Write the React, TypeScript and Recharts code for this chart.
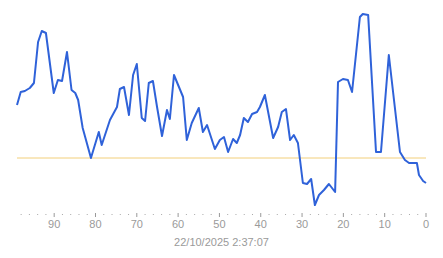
import { LineChart, Line, XAxis, YAxis, ReferenceLine } from "recharts";

// seconds ago
const secondsAgo = [
  99.0, 98.1, 97.1, 95.9, 94.9, 93.9, 93.0, 92.0, 90.1, 89.1, 88.1, 86.9, 85.8,
  84.9, 84.2, 83.1, 81.1, 79.2, 78.5, 76.5, 74.8, 74.1, 73.1, 71.9, 70.9, 70.0,
  68.8, 68.0, 67.1, 66.1, 65.1, 63.9, 62.7, 62.0, 61.0, 60.0, 58.8, 57.9, 56.7,
  55.0, 54.0, 53.0, 51.1, 49.9, 48.9, 47.9, 46.7, 45.8, 45.0, 44.1, 43.1, 42.1,
  40.9, 40.2, 39.0, 37.0, 35.8, 34.9, 33.9, 32.9, 32.0, 31.0, 29.8, 28.8, 27.8,
  26.9, 25.9, 24.7, 23.5, 22.0, 21.3, 20.1, 18.9, 17.9, 16.0, 15.3, 14.0, 12.1,
  10.9, 9.0, 6.3, 5.1, 4.1, 2.2, 1.7, 0.7, 0,
];

const values = [
  105, 118, 119, 122, 127, 168, 179, 177, 117, 130, 129, 158, 120,
  117, 110, 82, 52, 78, 65, 90, 103, 121, 123, 95, 135, 146,
  92, 89, 127, 129, 103, 74, 100, 91, 135, 125, 113, 70, 87,
  102, 78, 85, 61, 70, 73, 58, 71, 67, 75, 92, 88, 96,
  98, 103, 115, 72, 83, 98, 101, 70, 75, 67, 27, 26, 31,
  5, 15, 20, 26, 18, 128, 131, 130, 118, 193, 196, 195, 58,
  58, 155, 58, 50, 47, 47, 35, 29, 27,
];

const baseline = 52;
const majorTicks = [90, 80, 70, 60, 50, 40, 30, 20, 10, 0];
const allTicks = Array.from({ length: 50 }, (_, i) => i * 2);
const timeLabel = "22/10/2025 2:37:07";

const data = secondsAgo.map((t, i) => ({ t, v: values[i] }));

function Tick(props: any) {
  const { x, y, payload } = props;
  const v = payload.value;
  if (majorTicks.includes(v)) {
    return (
      <g>
        <line x1={x} x2={x} y1={y + 3} y2={y + 7} stroke="#999" strokeWidth={1} />
        <text
          x={x}
          y={y + 18}
          textAnchor="middle"
          fill="#9a9a9a"
          fontSize={11}
          fontFamily="Liberation Sans, Arial, sans-serif"
        >
          {v}
        </text>
      </g>
    );
  }
  return <rect x={x - 0.5} y={y + 4} width={1} height={1} fill="#aaa" />;
}

export default function App() {
  return (
    <div style={{ position: "absolute", left: 0, top: 0, background: "#fff" }}>
      <LineChart
        width={443}
        height={258}
        data={data}
        margin={{ top: 10, right: 17, left: 17, bottom: 0 }}
      >
        <XAxis
          dataKey="t"
          type="number"
          domain={[0, 99]}
          reversed
          ticks={allTicks}
          interval={0}
          axisLine={false}
          tickLine={false}
          tickSize={0}
          tickMargin={0}
          height={48}
          tick={<Tick />}
          label={{
            value: timeLabel,
            position: "insideBottom",
            offset: 12,
            fill: "#9a9a9a",
            fontSize: 11,
            fontFamily: "Liberation Sans, Arial, sans-serif",
          }}
        />
        <YAxis hide domain={[0, 200]} />
        <ReferenceLine y={baseline} stroke="#f2cf7a" strokeWidth={1} />
        <Line
          type="linear"
          dataKey="v"
          stroke="#2f62d9"
          strokeWidth={2}
          dot={false}
          strokeLinejoin="round"
          isAnimationActive={false}
        />
      </LineChart>
    </div>
  );
}
